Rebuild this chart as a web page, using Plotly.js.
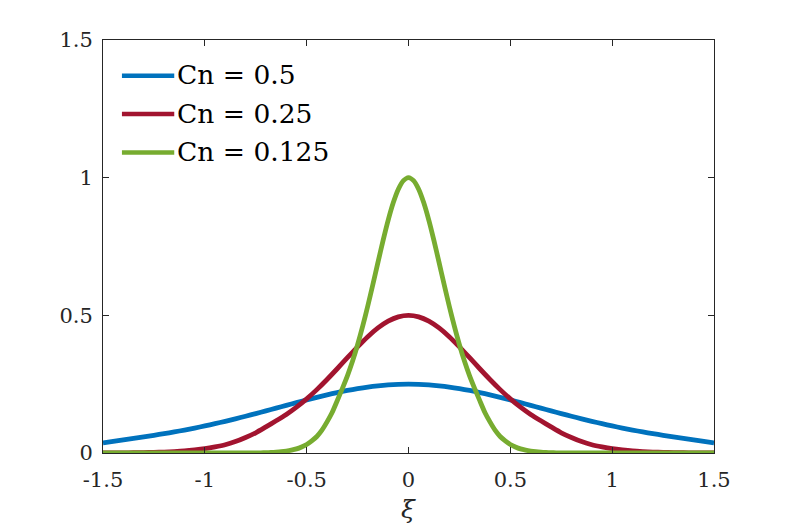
<!DOCTYPE html>
<html>
<head>
<meta charset="utf-8">
<script src="https://cdn.plot.ly/plotly-3.0.1.min.js"></script>
<style>
html,body{margin:0;padding:0;background:#fff;}
#chart{width:789px;height:526px;}
</style>
</head>
<body>
<div id="chart"></div>
<script>
// ---- data ----
var seriesNames = ["Cn = 0.5", "Cn = 0.25", "Cn = 0.125"];
var seriesColors = ["#0072BD", "#A2142F", "#77AC30"];

var xCoarse = [-1.5,-1.45,-1.4,-1.35,-1.3,-1.25,-1.2,-1.15,-1.1,-1.05,-1,-0.95,-0.9,-0.85,-0.8,-0.75,-0.7,-0.65,-0.6,-0.55,-0.5,-0.45,-0.4,-0.35,-0.3,-0.25,-0.2,-0.15,-0.1,-0.05,0,0.05,0.1,0.15,0.2,0.25,0.3,0.35,0.4,0.45,0.5,0.55,0.6,0.65,0.7,0.75,0.8,0.85,0.9,0.95,1,1.05,1.1,1.15,1.2,1.25,1.3,1.35,1.4,1.45,1.5];

var yCn050 = [0.0368,0.0418,0.0475,0.0530,0.0585,0.0644,0.0701,0.0765,0.0833,0.0906,0.0983,0.1065,0.1151,0.1241,0.1335,0.1431,0.1530,0.1630,0.1731,0.1830,0.1928,0.2023,0.2112,0.2196,0.2272,0.2338,0.2395,0.2440,0.2473,0.2493,0.2500,0.2493,0.2473,0.2440,0.2395,0.2338,0.2272,0.2196,0.2112,0.2023,0.1928,0.1830,0.1731,0.1630,0.1530,0.1431,0.1335,0.1241,0.1151,0.1065,0.0983,0.0906,0.0833,0.0765,0.0701,0.0644,0.0585,0.0530,0.0475,0.0418,0.0368];

var yCn025 = [0.0002,0.0004,0.0006,0.0010,0.0015,0.0023,0.0035,0.0052,0.0075,0.0110,0.0155,0.0220,0.0300,0.0415,0.0565,0.0735,0.0950,0.1170,0.1401,0.1666,0.1967,0.2302,0.2670,0.3060,0.3461,0.3856,0.4224,0.4543,0.4790,0.4946,0.5000,0.4946,0.4790,0.4543,0.4224,0.3856,0.3461,0.3060,0.2670,0.2302,0.1967,0.1666,0.1401,0.1170,0.0950,0.0735,0.0565,0.0415,0.0300,0.0220,0.0155,0.0110,0.0075,0.0052,0.0035,0.0023,0.0015,0.0010,0.0006,0.0004,0.0002];

var xFine = [-1.5,-1.4,-1.3,-1.2,-1.1,-1.0,-0.9,-0.8,-0.75,-0.725,-0.7,-0.675,-0.65,-0.625,-0.6,-0.575,-0.55,-0.525,-0.5,-0.475,-0.45,-0.425,-0.4,-0.375,-0.35,-0.325,-0.3,-0.275,-0.25,-0.225,-0.2,-0.175,-0.15,-0.125,-0.1,-0.075,-0.05,-0.025,0,0.025,0.05,0.075,0.1,0.125,0.15,0.175,0.2,0.225,0.25,0.275,0.3,0.325,0.35,0.375,0.4,0.425,0.45,0.475,0.5,0.525,0.55,0.575,0.6,0.625,0.65,0.675,0.7,0.725,0.75,0.8,0.9,1.0,1.1,1.2,1.3,1.4,1.5];

var yCn0125 = [0,0,0,0,0,0,0.00003,0.0002,0.0005,0.0008,0.0012,0.0019,0.0030,0.0046,0.0070,0.0104,0.0150,0.0220,0.0310,0.0440,0.0600,0.0830,0.1130,0.1470,0.1900,0.2340,0.2803,0.3331,0.3933,0.4605,0.5339,0.6120,0.6922,0.7712,0.8449,0.9086,0.9580,0.9893,1.0000,0.9893,0.9580,0.9086,0.8449,0.7712,0.6922,0.6120,0.5339,0.4605,0.3933,0.3331,0.2803,0.2340,0.1900,0.1470,0.1130,0.0830,0.0600,0.0440,0.0310,0.0220,0.0150,0.0104,0.0070,0.0046,0.0030,0.0019,0.0012,0.0008,0.0005,0.0002,0.00003,0,0,0,0,0,0];

var xTickVals = [-1.5,-1,-0.5,0,0.5,1,1.5];
var xTickText = ["-1.5","-1","-0.5","0","0.5","1","1.5"];
var yTickVals = [0,0.5,1,1.5];
var yTickText = ["0","0.5","1","1.5"];
var xTitle = "\u03BE";

// ---- figure ----
var serif = "DejaVu Serif";
var xs = [xCoarse, xCoarse, xFine];
var ys = [yCn050, yCn025, yCn0125];
var traces = [];
for (var i = 0; i < 3; i++) {
  traces.push({
    x: xs[i], y: ys[i], type: "scatter", mode: "lines", name: seriesNames[i],
    line: {color: seriesColors[i], width: 4.8, shape: "spline", smoothing: 0.6},
    showlegend: false, hoverinfo: "skip"
  });
}

var axisColor = "#262626";
var tickFont = {family: serif, size: 21, color: axisColor};

// legend drawn as shapes + annotations (long sample lines like the reference)
var legRowsY = [0.9137, 0.8210, 0.7275];
var shapes = [], annotations = [];
for (var j = 0; j < 3; j++) {
  shapes.push({type: "line", xref: "paper", yref: "paper", x0: 0.031, x1: 0.1166,
    y0: legRowsY[j], y1: legRowsY[j], line: {color: seriesColors[j], width: 4.5}});
  annotations.push({xref: "paper", yref: "paper", x: 0.118, y: legRowsY[j] + 0.002,
    xanchor: "left", yanchor: "middle", showarrow: false,
    text: seriesNames[j].replace(/ /g, "\u00A0"),
    font: {family: serif, size: 26.5, color: "#000"}});
}
annotations.push({xref: "paper", yref: "paper", x: 0.5, y: -0.1366, xanchor: "center", yanchor: "middle",
  showarrow: false, text: "<i>" + xTitle + "</i>",
  font: {family: serif, size: 25, color: axisColor}});

var layout = {
  width: 789, height: 526,
  margin: {l: 103, r: 75, t: 40, b: 73, pad: 0},
  paper_bgcolor: "#fff", plot_bgcolor: "#fff",
  showlegend: false,
  font: {family: serif},
  xaxis: {
    range: [-1.5, 1.5], tickmode: "array", tickvals: xTickVals, ticktext: xTickText,
    ticks: "inside", ticklen: 6, tickwidth: 1, tickcolor: axisColor,
    showline: true, linecolor: axisColor, linewidth: 1, mirror: "ticks",
    showgrid: false, zeroline: false, tickfont: tickFont, ticklabelstandoff: 8
  },
  yaxis: {
    range: [0, 1.5], tickmode: "array", tickvals: yTickVals, ticktext: yTickText,
    ticks: "inside", ticklen: 6, tickwidth: 1, tickcolor: axisColor,
    showline: true, linecolor: axisColor, linewidth: 1, mirror: "ticks",
    showgrid: false, zeroline: false, tickfont: tickFont, ticklabelstandoff: 5
  },
  shapes: shapes,
  annotations: annotations
};

Plotly.newPlot("chart", traces, layout, {staticPlot: true, displayModeBar: false});
</script>
</body>
</html>
